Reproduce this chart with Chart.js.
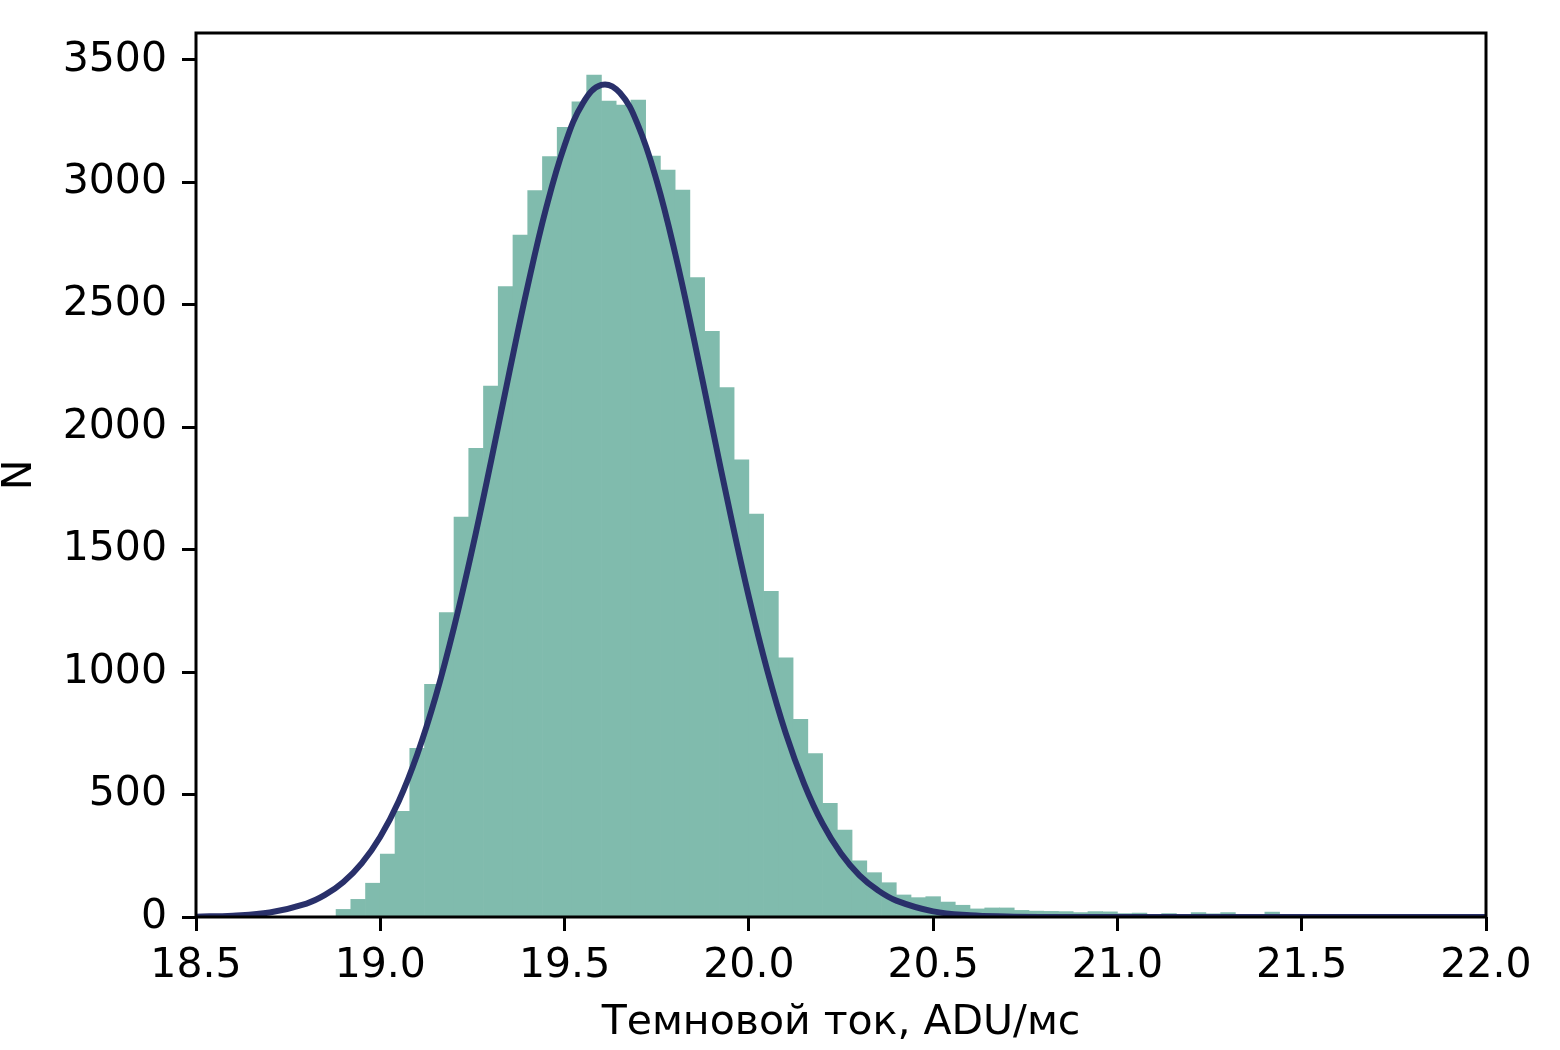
<!DOCTYPE html>
<html>
<head>
<meta charset="utf-8">
<script src="https://cdn.jsdelivr.net/npm/chart.js@4"></script>
<style>body{margin:0;background:#fff}</style>
</head>
<body>
<canvas id="myChart" width="1560" height="1050"></canvas>
<script>
// histogram bins: left edge of first bin and bin width
const binStart = 18.88;
const binWidth = 0.04;

// counts per bin
const counts = [
  31, 72, 138, 257, 432, 689, 950, 1243, 1633, 1914,
  2168, 2574, 2785, 2966, 3105, 3225, 3329, 3438, 3332, 3316,
  3336, 3107, 3050, 2969, 2611, 2392, 2162, 1867, 1645, 1330,
  1058, 807, 667, 464, 355, 229, 181, 140, 90, 79,
  83, 61, 48, 33, 37, 37, 27, 24, 23, 22,
  18, 22, 21, 14, 16, 7, 14, 8, 18, 13,
  18, 6, 5, 20, 4, 3, 3, 2, 2, 3,
  11, 3, 2, 2, 1, 2, 1, 1
];

// gaussian fit curve
const fitX = [18.5, 18.6, 18.7, 18.8, 18.85, 18.9, 18.95, 19.0, 19.05, 19.1,
  19.15, 19.2, 19.25, 19.3, 19.35, 19.4, 19.45, 19.5, 19.55, 19.6,
  19.65, 19.7, 19.75, 19.8, 19.85, 19.9, 19.95, 20.0, 20.05, 20.1,
  20.15, 20.2, 20.25, 20.3, 20.35, 20.4, 20.5, 20.6, 20.7, 20.8, 21.0, 22.0];
const fitY = [1.5, 5.6, 18.6, 55, 90, 143, 220, 328, 473, 663,
  899, 1182, 1505, 1858, 2223, 2577, 2895, 3151, 3324, 3398,
  3366, 3231, 3006, 2710, 2367, 2004, 1644, 1307, 1007, 751,
  544, 381, 259, 170, 109, 67, 23, 7, 2, 0.4, 0, 0];

const xTicks = [18.5, 19.0, 19.5, 20.0, 20.5, 21.0, 21.5, 22.0];
const yTicks = [0, 500, 1000, 1500, 2000, 2500, 3000, 3500];

const ctx = document.getElementById('myChart').getContext('2d');
const font = { family: 'DejaVu Sans', size: 41 };

// black box around the plot area, like matplotlib spines
const frame = {
  id: 'frame',
  afterDatasetsDraw(chart) {
    const { ctx, chartArea: a } = chart;
    ctx.save();
    ctx.strokeStyle = '#000';
    ctx.lineWidth = 3;
    ctx.strokeRect(a.left, a.top, a.right - a.left, a.bottom - a.top);
    ctx.restore();
  }
};

new Chart(ctx, {
  type: 'bar',
  data: {
    datasets: [
      {
        type: 'line',
        data: fitX.map((x, i) => ({ x: x, y: fitY[i] })),
        borderColor: '#29306a',
        borderWidth: 6,
        pointRadius: 0,
        tension: 0.4,
        order: 0
      },
      {
        type: 'bar',
        data: counts.map((c, i) => ({ x: binStart + binWidth * (i + 0.5), y: c })),
        backgroundColor: '#80bbad',
        barPercentage: 1,
        categoryPercentage: 1,
        order: 1
      }
    ]
  },
  options: {
    responsive: false,
    animation: false,
    devicePixelRatio: 1,
    layout: { padding: { top: 33, right: 74, left: 0, bottom: 0 } },
    plugins: { legend: { display: false }, tooltip: { enabled: false } },
    scales: {
      x: {
        type: 'linear',
        min: 18.5,
        max: 22.0,
        offset: false,
        afterBuildTicks: s => { s.ticks = xTicks.map(v => ({ value: v })); },
        afterFit: s => { s.height = 133; s.paddingLeft = 0; s.paddingRight = 0; },
        grid: { drawOnChartArea: false, offset: false, tickLength: 14, tickWidth: 3, tickColor: '#000' },
        border: { display: false },
        ticks: { font: font, color: '#000', padding: 11, maxRotation: 0, callback: v => Number(v).toFixed(1) },
        title: { display: true, text: 'Темновой ток, ADU/мс', font: font, color: '#000', padding: { top: 0, bottom: 2 } }
      },
      y: {
        min: 0,
        max: 3610,
        afterBuildTicks: s => { s.ticks = yTicks.map(v => ({ value: v })); },
        afterFit: s => { s.width = 196; s.paddingTop = 0; s.paddingBottom = 0; },
        grid: { drawOnChartArea: false, tickLength: 14, tickWidth: 3, tickColor: '#000' },
        border: { display: false },
        ticks: { font: font, color: '#000', padding: 15, callback: v => String(v) },
        title: { display: true, text: 'N', font: { family: 'DejaVu Sans', size: 41, lineHeight: 1.0 }, color: '#000', padding: 0 }
      }
    }
  },
  plugins: [frame]
});
</script>
</body>
</html>
